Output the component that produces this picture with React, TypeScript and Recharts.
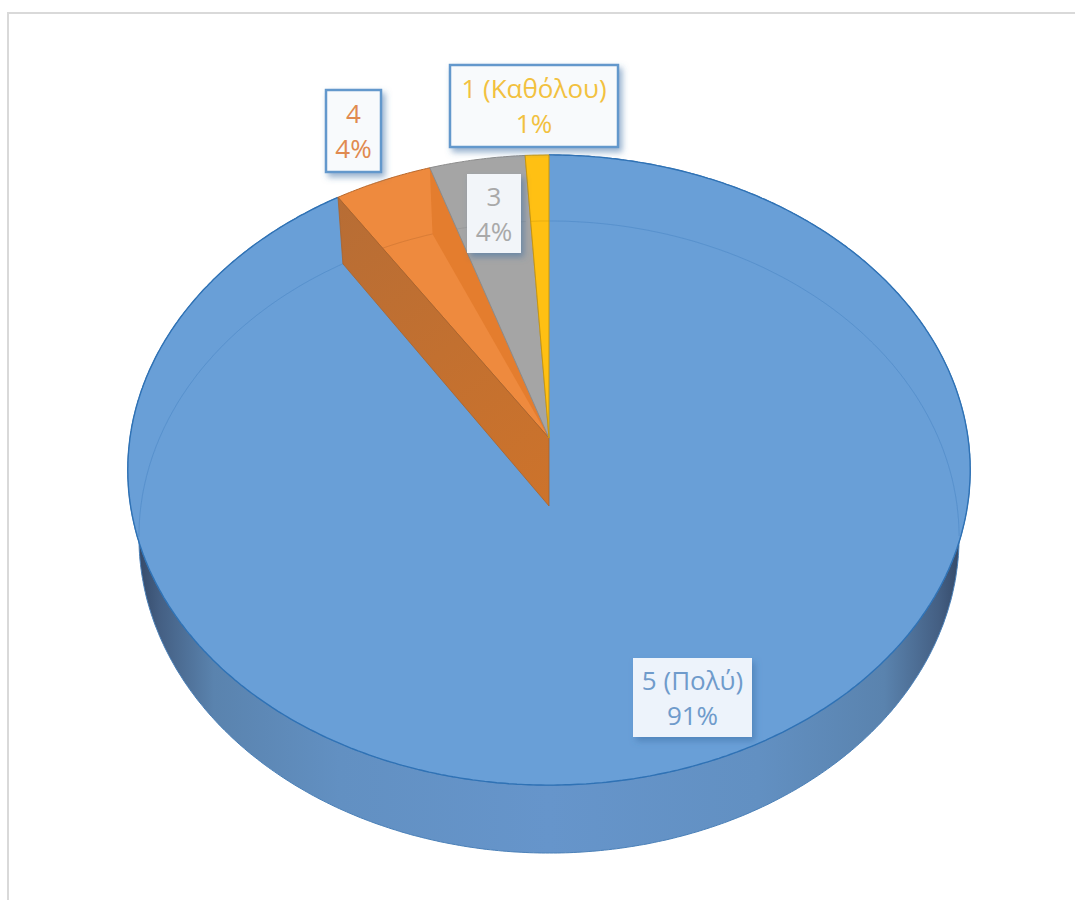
import { PieChart, Pie } from 'recharts';

const categories = ['5 (Πολύ)', '4', '3', '1 (Καθόλου)'];
const shares = [90.8, 4.15, 4.05, 1.0];

const FACE_COLORS = ['#699fd7', '#ee8a3e', '#a5a5a5', '#ffc013'];
const EDGE_COLORS = ['#3f7dbd', '#b8682c', '#8c8c8c', '#c9970f'];
const TEXT_COLORS = ['#6f9bcb', '#e08a50', '#a9a9a9', '#f2c13f'];

const chartData = categories.map((name, i) => ({
  name,
  value: shares[i],
  fill: FACE_COLORS[i],
  edge: EDGE_COLORS[i],
  text: TEXT_COLORS[i],
}));

// label boxes, offsets from the pie centre
const LABEL_BOXES: Record<string, { left: number; top: number; w: number; h: number; border: boolean; fill: string }> = {
  '5 (Πολύ)': { left: 84, top: 220, w: 119, h: 79, border: false, fill: '#edf3fb' },
  '4': { left: -223, top: -348, w: 55, h: 82, border: true, fill: '#f8fafc' },
  '3': { left: -82, top: -264, w: 54, h: 79, border: false, fill: '#f2f5f9' },
  '1 (Καθόλου)': { left: -99, top: -373, w: 168, h: 82, border: true, fill: '#f8fafc' },
};

const FONT = '"Open Sans", "Noto Sans", sans-serif';

// perspective of the disc: top face and the bottom face below it
const TILT = { top: { a: 1, b: 0.7442, k: 0.1016, drop: 0 }, bottom: { a: 0.974, b: 0.747, k: 0.0981, drop: 68 } };

type Level = typeof TILT.top;
type Pt = { x: number; y: number; v: number };

const project = (cx: number, cy: number, radius: number, angle: number, level: Level, frac = 1): Pt => {
  const theta = ((90 - angle) * Math.PI) / 180;
  const u = Math.sin(theta) * frac;
  const v = Math.cos(theta) * frac;
  const d = 1 + level.k * v;
  return {
    x: cx + (radius * level.a * u) / d,
    y: cy + level.drop - (radius * level.b * v) / d,
    v,
  };
};

const arcPoints = (cx: number, cy: number, r: number, from: number, to: number, level: Level) => {
  const steps = Math.max(2, Math.ceil(Math.abs(to - from) * 2));
  const pts: Pt[] = [];
  for (let i = 0; i <= steps; i++) {
    pts.push(project(cx, cy, r, from + ((to - from) * i) / steps, level));
  }
  return pts;
};

const toPath = (pts: { x: number; y: number }[], close = false) =>
  pts.map((p, i) => `${i ? 'L' : 'M'}${p.x.toFixed(1)} ${p.y.toFixed(1)}`).join(' ') + (close ? ' Z' : '');

// the part of the bottom rim that shows through the top face, back half only
const seamPath = (pts: Pt[]) => {
  const runs: Pt[][] = [];
  let run: Pt[] = [];
  pts.forEach((p) => {
    if (p.v > -0.1) {
      run.push(p);
    } else if (run.length) {
      runs.push(run);
      run = [];
    }
  });
  if (run.length) runs.push(run);
  return runs.map((r) => toPath(r)).join(' ');
};

function Slice3D(props: any) {
  const { cx, cy, outerRadius: r, startAngle, endAngle, fill, name, edge } = props;
  const topArc = arcPoints(cx, cy, r, startAngle, endAngle, TILT.top);
  const bottomArc = arcPoints(cx, cy, r, startAngle, endAngle, TILT.bottom);
  const apexTop = project(cx, cy, r, 0, TILT.top, 0);
  const apexBottom = project(cx, cy, r, 0, TILT.bottom, 0);
  const isBlue = name === categories[0];
  const isOrange = name === categories[1];
  const clipId = `face-${name.charAt(0)}`;
  const facePath = toPath([apexTop, ...topArc], true);

  return (
    <g>
      {isBlue && (
        <>
          <defs>
            <linearGradient id="wallGrad" gradientUnits="userSpaceOnUse" x1={cx - r} x2={cx + r} y1={0} y2={0}>
              <stop offset="0" stopColor="#2f4260" />
              <stop offset="0.035" stopColor="#445f83" />
              <stop offset="0.1" stopColor="#5a83ae" />
              <stop offset="0.25" stopColor="#6290c2" />
              <stop offset="0.5" stopColor="#6695cb" />
              <stop offset="0.75" stopColor="#6290c2" />
              <stop offset="0.9" stopColor="#5a83ae" />
              <stop offset="0.965" stopColor="#445f83" />
              <stop offset="1" stopColor="#2f4260" />
            </linearGradient>
            <filter id="boxShadow" x="-30%" y="-30%" width="160%" height="160%">
              <feDropShadow dx="3" dy="4" stdDeviation="3" floodColor="#3f6fa5" floodOpacity="0.55" />
            </filter>
          </defs>
          <path
            d={toPath([...topArc, ...[...bottomArc].reverse()], true)}
            fill="url(#wallGrad)"
            stroke="#4a80b8"
            strokeWidth={1}
          />
        </>
      )}
      <clipPath id={clipId}>
        <path d={facePath} />
      </clipPath>
      <path d={facePath} fill={fill} stroke={isBlue ? 'none' : edge} strokeWidth={1} />
      {isBlue && <path d={toPath(topArc)} fill="none" stroke="#2f72b5" strokeWidth={1.4} />}
      {isOrange && (
        <>
          <path
            d={toPath([topArc[topArc.length - 1], bottomArc[bottomArc.length - 1], apexTop], true)}
            fill="#e47d2e"
          />
          <defs>
            <linearGradient id="sideGrad" gradientUnits="userSpaceOnUse" x1={topArc[0].x} x2={apexBottom.x} y1={topArc[0].y} y2={apexBottom.y}>
              <stop offset="0" stopColor="#b76d35" />
              <stop offset="1" stopColor="#cd732b" />
            </linearGradient>
          </defs>
        </>
      )}
      <path d={seamPath(bottomArc)} fill="none" stroke={edge} strokeOpacity={0.4} strokeWidth={1} clipPath={`url(#${clipId})`} />
      {isOrange && (
        <path
          d={toPath([topArc[0], bottomArc[0], apexBottom, apexTop], true)}
          fill="url(#sideGrad)"
          stroke="#a9632c"
          strokeWidth={0.8}
        />
      )}
    </g>
  );
}

function SliceLabel(props: any) {
  const { cx, cy, name, percent, text } = props;
  const box = LABEL_BOXES[name];
  const mid = cx + box.left + box.w / 2;
  const top = cy + box.top;
  return (
    <g>
      <rect
        x={cx + box.left}
        y={top}
        width={box.w}
        height={box.h}
        fill={box.fill}
        stroke={box.border ? '#6498cc' : 'none'}
        strokeWidth={box.border ? 2.5 : 0}
        filter="url(#boxShadow)"
      />
      <text x={mid} y={top + box.h / 2 - 8} textAnchor="middle" fontFamily={FONT} fontSize={26} fill={text}>
        {name}
      </text>
      <text x={mid} y={top + box.h / 2 + 27} textAnchor="middle" fontFamily={FONT} fontSize={26} fill={text}>
        {Math.round(percent * 100)}%
      </text>
    </g>
  );
}

export default function App() {
  return (
    <div style={{ position: 'absolute', left: 0, top: 0, width: 1075, height: 900, background: '#fff', overflow: 'hidden' }}>
      <div
        style={{
          position: 'absolute',
          left: 7,
          top: 12,
          right: -4,
          bottom: -4,
          borderTop: '2px solid #d9d9d9',
          borderLeft: '2px solid #d9d9d9',
        }}
      />
      <div style={{ position: 'absolute', left: 0, top: 0 }}>
        <PieChart width={1075} height={900} margin={{ top: 0, right: 0, bottom: 0, left: 0 }}>
          <Pie
            data={chartData}
            dataKey="value"
            nameKey="name"
            cx={549}
            cy={438}
            innerRadius={0}
            outerRadius={419}
            startAngle={90}
            endAngle={-270}
            stroke="none"
            isAnimationActive={false}
            shape={Slice3D}
            label={SliceLabel}
            labelLine={false}
          />
        </PieChart>
      </div>
    </div>
  );
}
